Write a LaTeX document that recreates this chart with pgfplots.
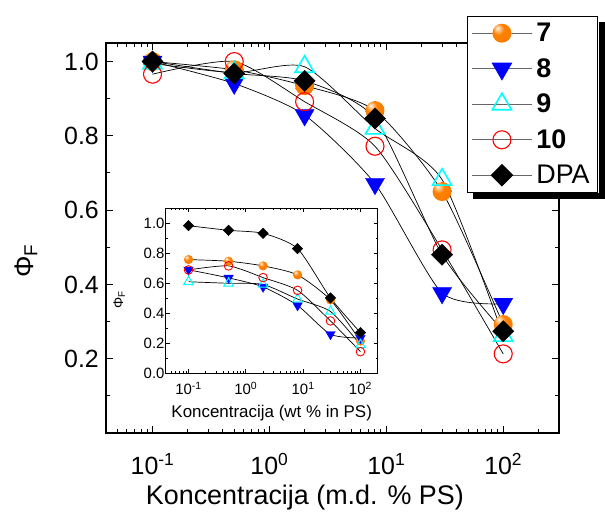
\documentclass[border=0pt]{standalone}
\usepackage{fontspec}
\setmainfont{Liberation Sans}
\usepackage{pgfplots}
\usepackage{pgfplotstable}
\pgfplotsset{compat=1.18}

\definecolor{ballorange}{RGB}{255,128,0}
\definecolor{mblue}{RGB}{0,0,255}
\definecolor{mcyan}{RGB}{0,255,255}
\definecolor{mred}{RGB}{255,0,0}

% glossy orange sphere used as the marker of compound 7
\pgfdeclareradialshading{orangeball}{\pgfpoint{-12bp}{14bp}}{%
  color(0bp)=(white); color(5bp)=(ballorange!40!white);
  color(15bp)=(ballorange); color(42bp)=(ballorange!96!black);
  color(65bp)=(ballorange!85!black)}
\pgfdeclareplotmark{oball}{%
  \pgfpathcircle{\pgfpointorigin}{\pgfplotmarksize}%
  \pgfshadepath{orangeball}{0}%
  \pgfusepath{discard}}

% relative fluorescence quantum yield, main panel
\pgfplotstableread{
x y
0.1 1.000
0.5 0.978
2 0.935
8 0.868
30 0.650
100 0.292
}\mainseven
\pgfplotstableread{
x y
0.1 1.000
0.5 0.941
2 0.856
8 0.671
30 0.377
100 0.348
}\maineight
\pgfplotstableread{
x y
0.1 0.995
0.5 0.970
2 0.986
8 0.820
30 0.682
100 0.262
}\mainnine
\pgfplotstableread{
x y
0.1 0.966
0.5 1.000
2 0.892
8 0.772
30 0.493
100 0.213
}\mainten
\pgfplotstableread{
x y
0.1 1.000
0.5 0.968
2 0.948
8 0.847
30 0.480
100 0.274
}\maindpa

% absolute values, inset
\pgfplotstableread{
x y
0.1 0.758
0.5 0.747
2 0.716
8 0.656
30 0.489
100 0.215
}\inseven
\pgfplotstableread{
x y
0.1 0.690
0.5 0.636
2 0.576
8 0.452
30 0.260
100 0.235
}\ineight
\pgfplotstableread{
x y
0.1 0.610
0.5 0.600
2 0.592
8 0.495
30 0.412
100 0.190
}\innine
\pgfplotstableread{
x y
0.1 0.689
0.5 0.716
2 0.638
8 0.553
30 0.349
100 0.144
}\inten
\pgfplotstableread{
x y
0.1 0.984
0.5 0.953
2 0.933
8 0.831
30 0.502
100 0.271
}\indpa

\pgfplotsset{
  fitline/.style={black, line width=0.7bp, smooth, tension=0.4, forget plot},
  sevenmk/.style={only marks, mark=oball, mark size=#1},
  eightmk/.style={only marks, mark=triangle*, mark size=#1, mark options={rotate=180, fill=mblue, draw=mblue}},
  ninemk/.style 2 args={only marks, mark=triangle, mark size=#1, mark options={draw=mcyan, fill=white, line width=#2}},
  tenmk/.style 2 args={only marks, mark=o, mark size=#1, mark options={draw=mred, fill=white, line width=#2}},
  dpamk/.style={only marks, mark=square*, mark size=#1, mark options={rotate=45, fill=black, draw=black}},
}

\begin{document}
\begin{tikzpicture}
\begin{axis}[
  scale only axis, width=453bp, height=390bp,
  xmode=log, xmin=0.04, xmax=300, ymin=0, ymax=1.05,
  axis line style={line width=1.4bp},
  every tick/.style={black, line width=1bp},
  major tick length=7bp, minor tick length=4bp,
  xtick={0.1,1,10,100},
  xticklabels={10\textsuperscript{-1},10\textsuperscript{0},10\textsuperscript{1},10\textsuperscript{2}},
  minor xtick={0.04,0.05,0.06,0.07,0.08,0.09,0.2,0.3,0.4,0.5,0.6,0.7,0.8,0.9,2,3,4,5,6,7,8,9,20,30,40,50,60,70,80,90,200},
  ytick={0.2,0.4,0.6,0.8,1.0},
  minor ytick={0.1,0.3,0.5,0.7,0.9},
  tick label style={font=\fontsize{25}{30}\selectfont},
  yticklabel style={anchor=east, xshift=-3.7bp, /pgf/number format/.cd, fixed, fixed zerofill, precision=1, assume math mode=true},
  xticklabel style={anchor=base, yshift=-41bp},
  xlabel={Koncentracija (m.d. \% PS)},
  xlabel style={at={(axis description cs:0.439,-0.1846)}, anchor=base, font=\fontsize{27}{32}\selectfont},
  ylabel={Φ\textsubscript{F}},
  ylabel style={at={(axis description cs:-0.161,0.441)}, anchor=base, rotate=0, font=\fontsize{27}{32}\selectfont},
  legend image code/.code={%
    \draw[black!60, line width=0.8bp] (0bp,0bp) -- (60bp,0bp);
    \draw[#1] plot coordinates {(30bp,0bp)};},
  legend style={name=mlegend, at={(rel axis cs:0.797,1.07)}, anchor=north west,
    draw=black, line width=1bp, fill=white,
    font=\fontsize{27}{32}\selectfont,
    inner xsep=4bp, inner ysep=1bp, row sep=3.3bp,
    nodes={inner xsep=4bp, inner ysep=6bp},
    cells={anchor=west}},
]
\coordinate (bbsw) at (rel axis cs:0,0);
\coordinate (bbne) at (rel axis cs:1,1);
\coordinate (insetpos) at (rel axis cs:0.1318,0.1531);

\addplot[fitline] table {\mainseven};
\addplot[fitline] table {\maineight};
\addplot[fitline] table {\mainnine};
\addplot[fitline] table {\mainten};
\addplot[fitline] table {\maindpa};

\addplot[sevenmk=9.5bp] table {\mainseven};
\addlegendentry{\textbf{7}}
\addplot[eightmk=11bp] table {\maineight};
\addlegendentry{\textbf{8}}
\addplot[ninemk={11bp}{1.6bp}] table {\mainnine};
\addlegendentry{\textbf{9}}
\addplot[tenmk={9bp}{1.1bp}] table {\mainten};
\addlegendentry{\textbf{10}}
\addplot[dpamk=7.5bp] table {\maindpa};
\addlegendentry{DPA}
\end{axis}

% solid offset shadow of the legend box
\fill[black] ([shift={(6bp,-6.5bp)}]mlegend.south west) rectangle ([shift={(6.5bp,-0.5bp)}]mlegend.south east);
\fill[black] ([shift={(0.5bp,-6.5bp)}]mlegend.south east) rectangle ([shift={(6.5bp,-6bp)}]mlegend.north east);

\begin{axis}[
  at={(insetpos)}, anchor=south west,
  scale only axis, width=212bp, height=165bp,
  xmode=log, xmin=0.04, xmax=200, ymin=0, ymax=1.1,
  axis background/.style={fill=white},
  axis line style={line width=1bp},
  every tick/.style={black, line width=0.7bp},
  major tick length=4bp, minor tick length=2.2bp,
  xtick={0.1,1,10,100},
  xticklabels={10\textsuperscript{-1},10\textsuperscript{0},10\textsuperscript{1},10\textsuperscript{2}},
  minor xtick={0.04,0.05,0.06,0.07,0.08,0.09,0.2,0.3,0.4,0.5,0.6,0.7,0.8,0.9,2,3,4,5,6,7,8,9,20,30,40,50,60,70,80,90},
  ytick={0,0.2,0.4,0.6,0.8,1.0},
  minor ytick={0.1,0.3,0.5,0.7,0.9},
  tick label style={font=\fontsize{15}{18}\selectfont},
  yticklabel style={anchor=east, inner sep=1bp, /pgf/number format/.cd, fixed, fixed zerofill, precision=1, assume math mode=true},
  xticklabel style={anchor=base, yshift=-21bp},
  xlabel={Koncentracija (wt \% in PS)},
  xlabel style={at={(axis description cs:0.5,-0.267)}, anchor=base, font=\fontsize{17}{20}\selectfont},
  ylabel={Φ\textsubscript{F}},
  ylabel style={at={(axis description cs:-0.201,0.444)}, anchor=base, rotate=0, font=\fontsize{14}{17}\selectfont},
]
\addplot[fitline] table {\inseven};
\addplot[fitline] table {\ineight};
\addplot[fitline] table {\innine};
\addplot[fitline] table {\inten};
\addplot[fitline] table {\indpa};

\addplot[sevenmk=4.6bp] table {\inseven};
\addplot[eightmk=5.5bp] table {\ineight};
\addplot[ninemk={5.5bp}{1bp}] table {\innine};
\addplot[tenmk={4.3bp}{0.9bp}] table {\inten};
\addplot[dpamk=3.7bp] table {\indpa};
\end{axis}

\pgfresetboundingbox
\useasboundingbox ([shift={(-106bp,-91bp)}]bbsw) rectangle ([shift={(46bp,43bp)}]bbne);
\end{tikzpicture}
\end{document}
